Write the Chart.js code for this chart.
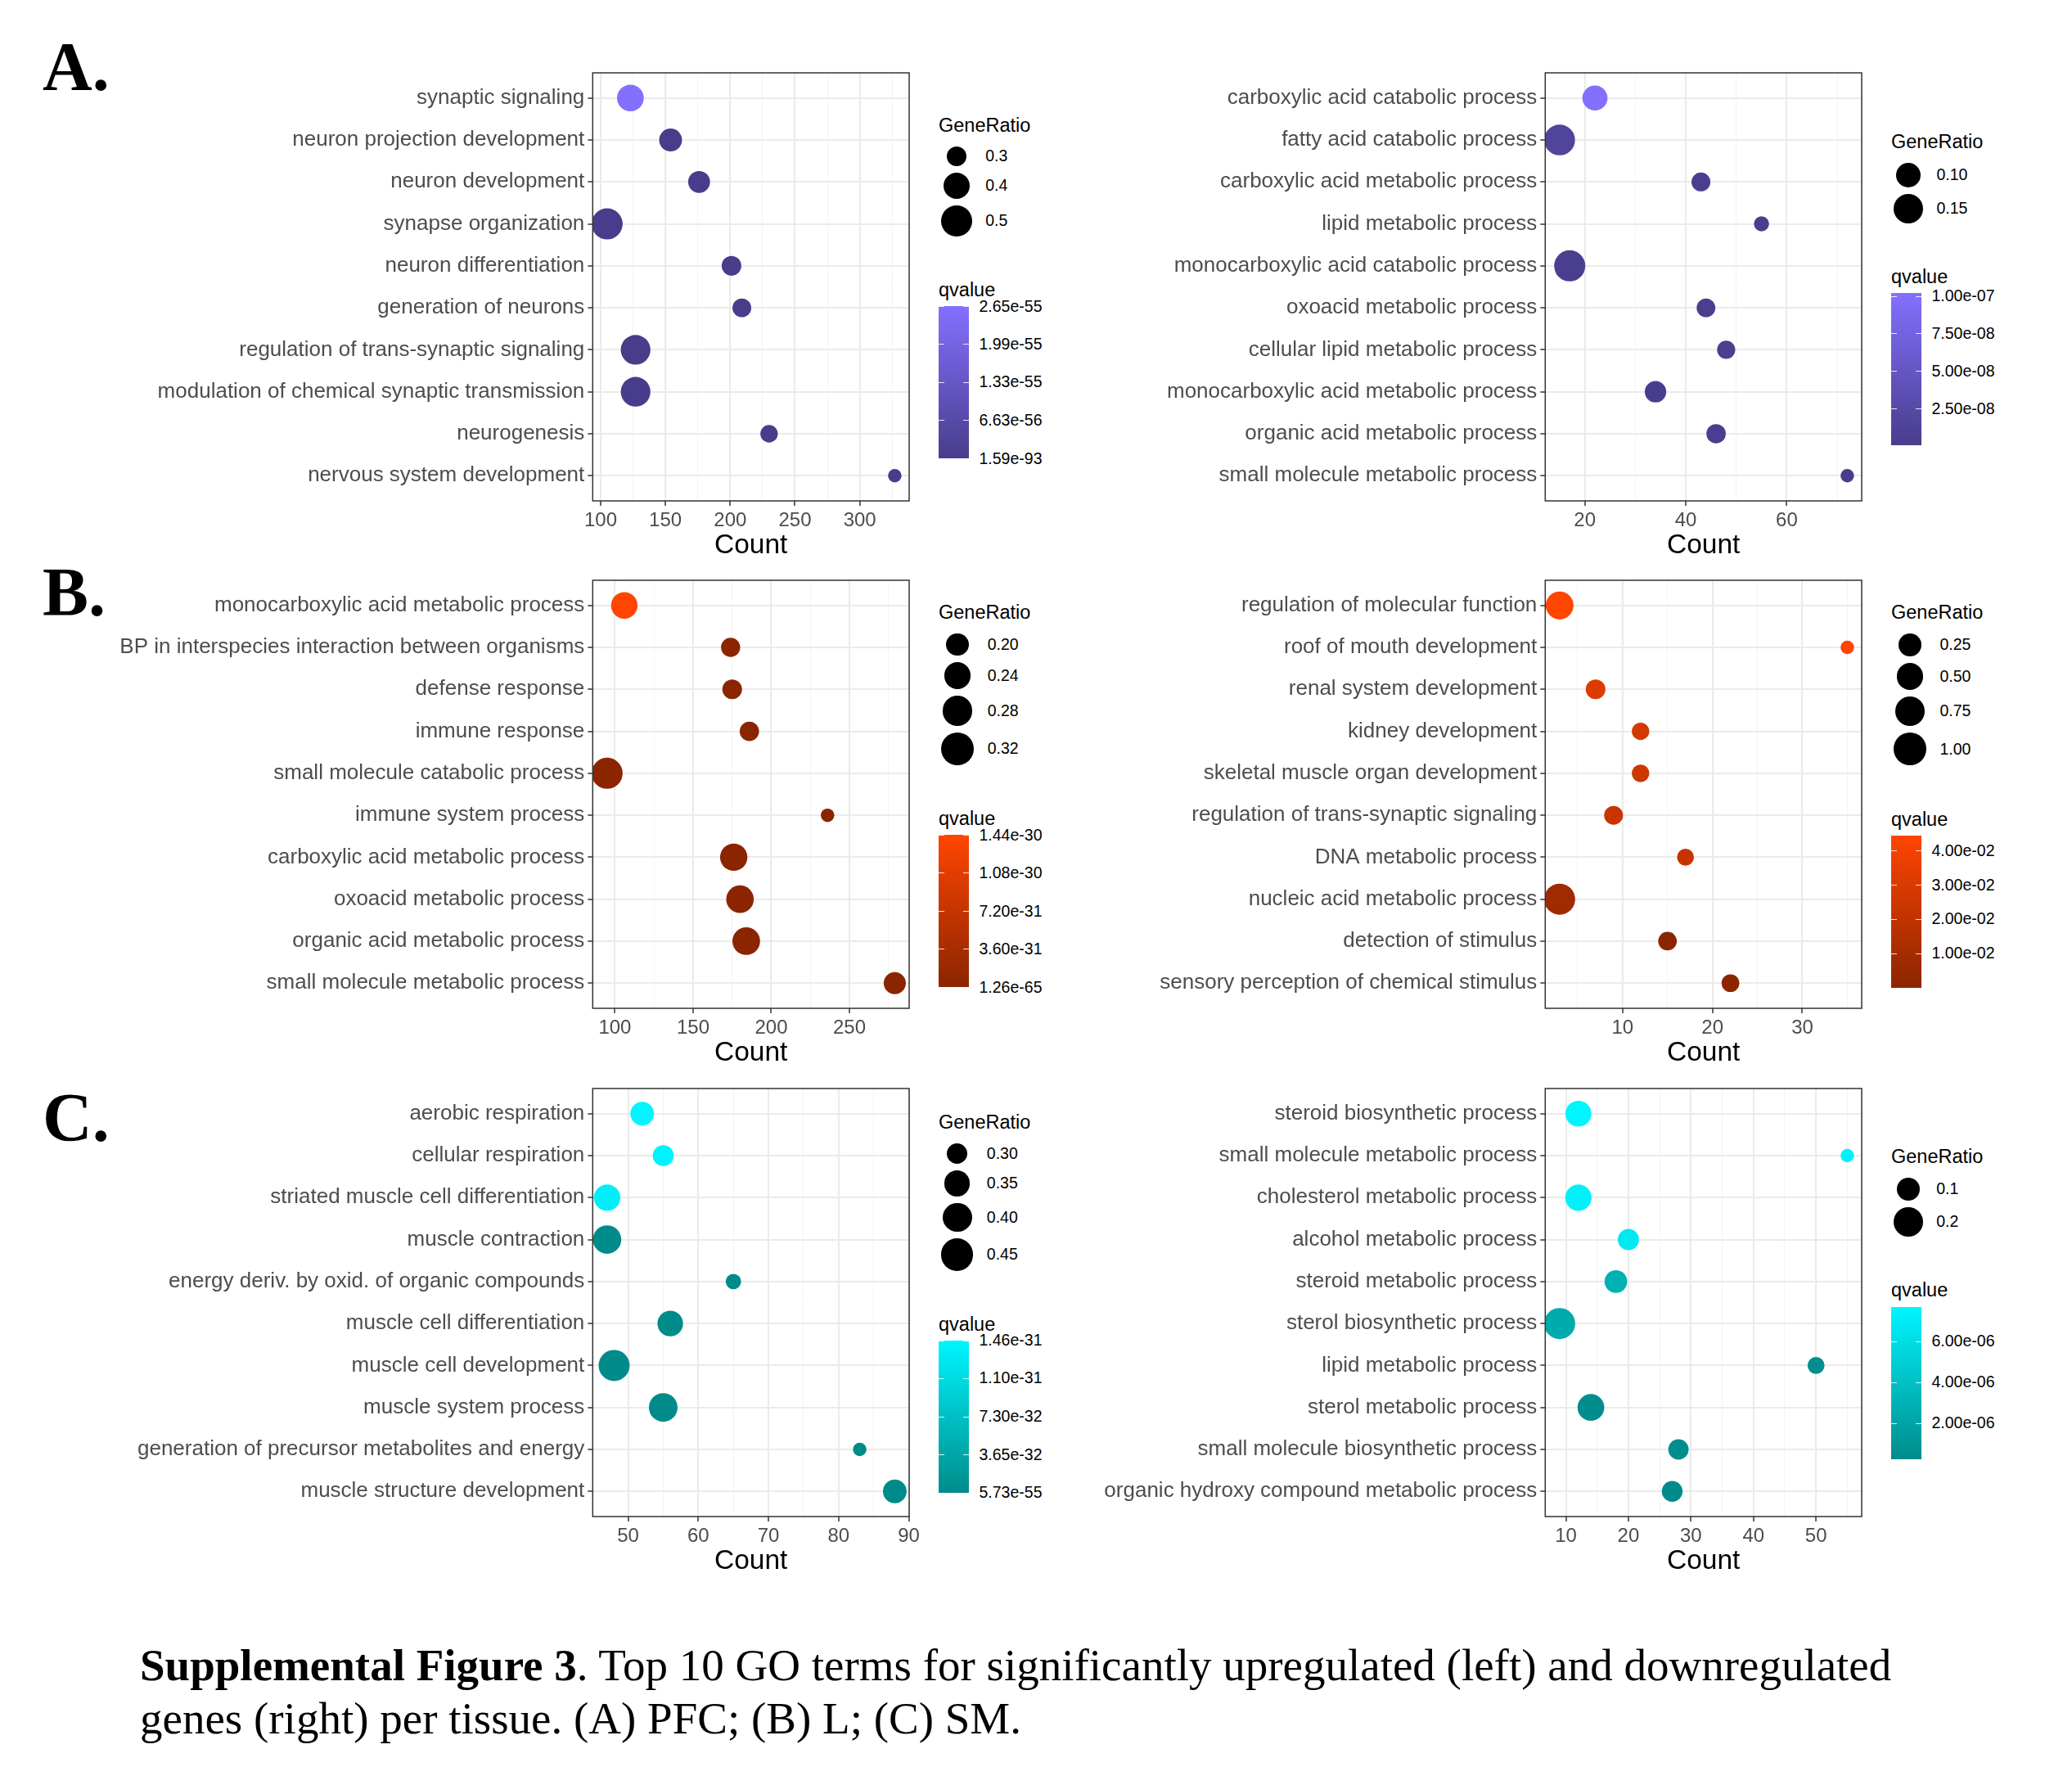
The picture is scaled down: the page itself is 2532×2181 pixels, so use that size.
<!DOCTYPE html>
<html lang="en">
  <head>
    <meta charset="UTF-8" />
    <title>Supplemental Figure 3</title>
    <script src="https://cdn.jsdelivr.net/npm/chart.js"></script>
    <style>
      body {
        margin: 0;
        width: 2532px;
        height: 2181px;
        position: relative;
        overflow: hidden;
        background: #fff;
        font-family: "Liberation Sans", Arial, sans-serif;
      }
      .panel {
        position: absolute;
      }
      .panel canvas {
        display: block;
      }
      .letter {
        position: absolute;
        left: 52px;
        font-family: "Liberation Serif", serif;
        font-weight: bold;
        font-size: 84px;
        line-height: 84px;
      }
      .caption {
        position: absolute;
        left: 171px;
        top: 2003px;
        font-family: "Liberation Serif", serif;
        font-size: 55px;
        line-height: 64.6px;
        white-space: nowrap;
      }
      .lt {
        position: absolute;
        white-space: nowrap;
        color: #000;
      }
      .dot {
        position: absolute;
        border-radius: 50%;
        background: #000;
      }
      .bar {
        position: absolute;
        width: 37px;
      }
      .tick {
        position: absolute;
        width: 7px;
        height: 1px;
        background: rgba(255, 255, 255, 0.85);
      }
    </style>
  </head>
  <body>
    <div class="letter" style="top: 40px">A.</div>
    <div class="letter" style="top: 682px">B.</div>
    <div class="letter" style="top: 1324px">C.</div>

    <div class="caption">
      <b>Supplemental Figure 3</b>. Top 10 GO terms for significantly upregulated (left) and downregulated<br />genes (right) per tissue. (A) PFC; (B) L; (C) SM.
    </div>

    <script>
      Chart.defaults.font.family = '"Liberation Sans", Arial, sans-serif';

      // A. PFC, upregulated
      const pfcUpTerms = [
        "synaptic signaling",
        "neuron projection development",
        "neuron development",
        "synapse organization",
        "neuron differentiation",
        "generation of neurons",
        "regulation of trans-synaptic signaling",
        "modulation of chemical synaptic transmission",
        "neurogenesis",
        "nervous system development",
      ];
      const pfcUpCount = [123, 154, 176, 105, 201, 209, 127, 127, 230, 327];
      const pfcUpRatio = [0.405, 0.339, 0.325, 0.507, 0.301, 0.293, 0.471, 0.471, 0.284, 0.272];
      const pfcUpQvalue = [2.65e-55, 3.1e-62, 8.4e-66, 4.0e-58, 2.2e-70, 5.6e-72, 1.1e-60, 7.3e-61, 1.8e-79, 1.59e-93];
      const pfcUpCountTicks = [100, 150, 200, 250, 300];
      const pfcUpRatioBreaks = ["0.3", "0.4", "0.5"];
      const pfcUpQBreaks = ["2.65e-55", "1.99e-55", "1.33e-55", "6.63e-56", "1.59e-93"];

      // A. PFC, downregulated
      const pfcDownTerms = [
        "carboxylic acid catabolic process",
        "fatty acid catabolic process",
        "carboxylic acid metabolic process",
        "lipid metabolic process",
        "monocarboxylic acid catabolic process",
        "oxoacid metabolic process",
        "cellular lipid metabolic process",
        "monocarboxylic acid metabolic process",
        "organic acid metabolic process",
        "small molecule metabolic process",
      ];
      const pfcDownCount = [22, 15, 43, 55, 17, 44, 48, 34, 46, 72];
      const pfcDownRatio = [0.105, 0.167, 0.065, 0.055, 0.171, 0.064, 0.062, 0.078, 0.067, 0.054];
      const pfcDownQvalue = [1.02e-7, 1.4e-8, 4.1e-9, 3.5e-9, 3.0e-9, 4.1e-9, 5.2e-9, 2.6e-9, 4.1e-9, 4.0e-10];
      const pfcDownCountTicks = [20, 40, 60];
      const pfcDownRatioBreaks = ["0.10", "0.15"];
      const pfcDownQBreaks = ["1.00e-07", "7.50e-08", "5.00e-08", "2.50e-08"];

      // B. L, upregulated
      const liverUpTerms = [
        "monocarboxylic acid metabolic process",
        "BP in interspecies interaction between organisms",
        "defense response",
        "immune response",
        "small molecule catabolic process",
        "immune system process",
        "carboxylic acid metabolic process",
        "oxoacid metabolic process",
        "organic acid metabolic process",
        "small molecule metabolic process",
      ];
      const liverUpCount = [106, 174, 175, 186, 95, 236, 176, 180, 184, 279];
      const liverUpRatio = [0.237, 0.182, 0.184, 0.183, 0.294, 0.169, 0.246, 0.249, 0.25, 0.199];
      const liverUpQvalue = [1.44e-30, 2.1e-48, 5.5e-47, 3.3e-52, 6.0e-41, 1.26e-65, 4.2e-44, 1.9e-45, 8.8e-46, 2.7e-57];
      const liverUpCountTicks = [100, 150, 200, 250];
      const liverUpRatioBreaks = ["0.20", "0.24", "0.28", "0.32"];
      const liverUpQBreaks = ["1.44e-30", "1.08e-30", "7.20e-31", "3.60e-31", "1.26e-65"];

      // B. L, downregulated
      const liverDownTerms = [
        "regulation of molecular function",
        "roof of mouth development",
        "renal system development",
        "kidney development",
        "skeletal muscle organ development",
        "regulation of trans-synaptic signaling",
        "DNA metabolic process",
        "nucleic acid metabolic process",
        "detection of stimulus",
        "sensory perception of chemical stimulus",
      ];
      const liverDownCount = [3, 35, 7, 12, 12, 9, 17, 3, 15, 22];
      const liverDownRatio = [0.567, 0.02, 0.12, 0.061, 0.061, 0.095, 0.051, 0.845, 0.088, 0.068];
      const liverDownQvalue = [0.0444, 0.0431, 0.031, 0.0272, 0.0251, 0.0233, 0.0225, 0.008, 0.00002, 0.0006];
      const liverDownCountTicks = [10, 20, 30];
      const liverDownRatioBreaks = ["0.25", "0.50", "0.75", "1.00"];
      const liverDownQBreaks = ["4.00e-02", "3.00e-02", "2.00e-02", "1.00e-02"];

      // C. SM, upregulated
      const smUpTerms = [
        "aerobic respiration",
        "cellular respiration",
        "striated muscle cell differentiation",
        "muscle contraction",
        "energy deriv. by oxid. of organic compounds",
        "muscle cell differentiation",
        "muscle cell development",
        "muscle system process",
        "generation of precursor metabolites and energy",
        "muscle structure development",
      ];
      const smUpCount = [52, 55, 47, 47, 65, 56, 48, 55, 83, 88];
      const smUpRatio = [0.327, 0.303, 0.359, 0.386, 0.277, 0.348, 0.43, 0.39, 0.275, 0.327];
      const smUpQvalue = [1.46e-31, 1.43e-31, 1.36e-31, 5.1e-36, 2.2e-40, 8.7e-38, 3.4e-37, 1.2e-45, 5.73e-55, 6.6e-47];
      const smUpCountTicks = [50, 60, 70, 80, 90];
      const smUpRatioBreaks = ["0.30", "0.35", "0.40", "0.45"];
      const smUpQBreaks = ["1.46e-31", "1.10e-31", "7.30e-32", "3.65e-32", "5.73e-55"];

      // C. SM, downregulated
      const smDownTerms = [
        "steroid biosynthetic process",
        "small molecule metabolic process",
        "cholesterol metabolic process",
        "alcohol metabolic process",
        "steroid metabolic process",
        "sterol biosynthetic process",
        "lipid metabolic process",
        "sterol metabolic process",
        "small molecule biosynthetic process",
        "organic hydroxy compound metabolic process",
      ];
      const smDownCount = [12, 55, 12, 20, 18, 9, 50, 14, 28, 27];
      const smDownRatio = [0.14, 0.039, 0.148, 0.078, 0.094, 0.241, 0.047, 0.153, 0.07, 0.073];
      const smDownQvalue = [7.7e-6, 7.5e-6, 7.4e-6, 6.8e-6, 2.9e-6, 2.5e-6, 4.8e-7, 4.0e-7, 4.1e-7, 2.6e-7];
      const smDownCountTicks = [10, 20, 30, 40, 50];
      const smDownRatioBreaks = ["0.1", "0.2"];
      const smDownQBreaks = ["6.00e-06", "4.00e-06", "2.00e-06"];

      const DOT_MIN = 16.5;
      const DOT_MAX = 38;
      const PALETTES = {
        A: ["#483D8B", "#8470FF"],
        B: ["#8B2500", "#FF4500"],
        C: ["#008B8B", "#00F5FF"],
      };
      const TITLE_SIZE = 23.5;
      const LABEL_SIZE = 19.5;

      const panels = [
        { terms: pfcUpTerms, count: pfcUpCount, ratio: pfcUpRatio, q: pfcUpQvalue, ticks: pfcUpCountTicks, rBreaks: pfcUpRatioBreaks, qBreaks: pfcUpQBreaks, pal: "A", col: 0, top: 62, legendTop: 145 },
        { terms: pfcDownTerms, count: pfcDownCount, ratio: pfcDownRatio, q: pfcDownQvalue, ticks: pfcDownCountTicks, rBreaks: pfcDownRatioBreaks, qBreaks: pfcDownQBreaks, pal: "A", col: 1, top: 62, legendTop: 165 },
        { terms: liverUpTerms, count: liverUpCount, ratio: liverUpRatio, q: liverUpQvalue, ticks: liverUpCountTicks, rBreaks: liverUpRatioBreaks, qBreaks: liverUpQBreaks, pal: "B", col: 0, top: 682, legendTop: 740 },
        { terms: liverDownTerms, count: liverDownCount, ratio: liverDownRatio, q: liverDownQvalue, ticks: liverDownCountTicks, rBreaks: liverDownRatioBreaks, qBreaks: liverDownQBreaks, pal: "B", col: 1, top: 682, legendTop: 740 },
        { terms: smUpTerms, count: smUpCount, ratio: smUpRatio, q: smUpQvalue, ticks: smUpCountTicks, rBreaks: smUpRatioBreaks, qBreaks: smUpQBreaks, pal: "C", col: 0, top: 1303, legendTop: 1363 },
        { terms: smDownTerms, count: smDownCount, ratio: smDownRatio, q: smDownQvalue, ticks: smDownCountTicks, rBreaks: smDownRatioBreaks, qBreaks: smDownQBreaks, pal: "C", col: 1, top: 1303, legendTop: 1405 },
      ];

      function dotSize(v, lo, hi) {
        return DOT_MIN + (DOT_MAX - DOT_MIN) * Math.sqrt(Math.max(0, (v - lo) / (hi - lo)));
      }

      function hexRgb(h) {
        return [1, 3, 5].map((i) => parseInt(h.slice(i, i + 2), 16));
      }

      function mix(c1, c2, t) {
        const a = hexRgb(c1), b = hexRgb(c2);
        t = Math.min(1, Math.max(0, t));
        return "rgb(" + a.map((v, i) => Math.round(v + (b[i] - v) * t)).join(",") + ")";
      }

      // panel border, like theme_bw
      const frame = {
        id: "frame",
        afterDraw(chart) {
          const { left, top, right, bottom } = chart.chartArea;
          const g = chart.ctx;
          g.save();
          g.strokeStyle = "#333333";
          g.lineWidth = 1.5;
          g.strokeRect(left, top, right - left, bottom - top);
          g.restore();
        },
      };

      function addDiv(cls, css, text) {
        const d = document.createElement("div");
        d.className = cls;
        Object.assign(d.style, css);
        if (text) d.textContent = text;
        document.body.appendChild(d);
        return d;
      }

      function textAt(str, x, cy, size) {
        addDiv("lt", { left: x + "px", top: cy - size / 2 + "px", fontSize: size + "px", lineHeight: size + "px" }, str);
      }

      function titleAt(str, x, capTop) {
        addDiv("lt", { left: x + "px", top: capTop - 0.13 * TITLE_SIZE + "px", fontSize: TITLE_SIZE + "px", lineHeight: TITLE_SIZE + "px" }, str);
      }

      function drawLegend(p, rLo, rHi, qLo, qHi) {
        const x0 = p.col ? 2311 : 1147;
        const [low, high] = PALETTES[p.pal];
        const sizes = p.rBreaks.map((s) => dotSize(parseFloat(s), rLo, rHi));
        const maxD = Math.max(...sizes);

        titleAt("GeneRatio", x0, p.legendTop);
        let y = p.legendTop + 30;
        sizes.forEach((d, i) => {
          const cy = y + (d + 8) / 2;
          const cx = x0 + maxD / 2 + 3;
          addDiv("dot", { left: cx - d / 2 + "px", top: cy - d / 2 + "px", width: d + "px", height: d + "px" });
          textAt(p.rBreaks[i], x0 + maxD + 19.5, cy, LABEL_SIZE);
          y += d + 8;
        });

        const qTop = y + 53.5;
        titleAt("qvalue", x0, qTop);
        const barTop = qTop + 28;
        const barH = 186;
        addDiv("bar", {
          left: x0 + "px",
          top: barTop + "px",
          height: barH + "px",
          background: "linear-gradient(to bottom, " + high + ", " + low + ")",
        });
        p.qBreaks.forEach((s) => {
          const v = parseFloat(s);
          const ty = barTop + (1 - (v - qLo) / (qHi - qLo)) * barH;
          addDiv("tick", { left: x0 + "px", top: ty - 0.5 + "px" });
          addDiv("tick", { left: x0 + 30 + "px", top: ty - 0.5 + "px" });
          textAt(s, x0 + 49.5, ty, LABEL_SIZE);
        });
      }

      function drawPanel(p) {
        const x0 = p.col ? 1280 : 100;
        const plotLeft = p.col ? 608.3 : 624.3;
        const padRight = p.col ? 36 : 30;
        const width = p.col ? 1031 : 1041;

        const wrap = addDiv("panel", { left: x0 + "px", top: p.top + "px" });
        const cv = document.createElement("canvas");
        cv.width = width;
        cv.height = 635;
        cv.style.width = width + "px";
        cv.style.height = "635px";
        wrap.appendChild(cv);

        const lo = Math.min(...p.count), hi = Math.max(...p.count);
        const pad = (hi - lo) * 0.05;
        const rLo = Math.min(...p.ratio), rHi = Math.max(...p.ratio);
        const qLo = Math.min(...p.q), qHi = Math.max(...p.q);
        const [low, high] = PALETTES[p.pal];
        const step = p.ticks[1] - p.ticks[0];
        const minor = [p.ticks[0] - step / 2].concat(p.ticks.map((t) => t + step / 2));
        const isMajor = (v) => p.ticks.includes(v);

        new Chart(cv, {
          type: "bubble",
          data: {
            datasets: [
              {
                data: p.count.map((c, i) => ({ x: c, y: i, r: dotSize(p.ratio[i], rLo, rHi) / 2 })),
                backgroundColor: p.q.map((v) => mix(low, high, (v - qLo) / (qHi - qLo))),
                borderWidth: 0,
                hoverBorderWidth: 0,
                clip: 0,
              },
            ],
          },
          options: {
            responsive: false,
            animation: false,
            events: [],
            layout: { padding: { top: 27, right: padRight, bottom: 6, left: 0 } },
            plugins: { legend: { display: false }, tooltip: { enabled: false } },
            scales: {
              x: {
                type: "linear",
                min: lo - pad,
                max: hi + pad,
                afterBuildTicks: (axis) => {
                  const all = p.ticks.concat(minor).filter((v) => v >= lo - pad && v <= hi + pad);
                  all.sort((a, b) => a - b);
                  axis.ticks = all.map((v) => ({ value: v }));
                },
                afterFit: (axis) => {
                  axis.height = 79;
                },
                border: { display: false },
                grid: {
                  color: (c) => (c.tick && isMajor(c.tick.value) ? "#EBEBEB" : "#F3F3F3"),
                  lineWidth: (c) => (c.tick && isMajor(c.tick.value) ? 2 : 1),
                  tickColor: (c) => (c.tick && isMajor(c.tick.value) ? "#333333" : "rgba(0,0,0,0)"),
                  tickWidth: 1.5,
                  tickLength: 6,
                },
                ticks: {
                  autoSkip: false,
                  maxRotation: 0,
                  padding: 4,
                  color: "#4D4D4D",
                  font: { size: 24 },
                  callback: (v) => (isMajor(v) ? String(v) : ""),
                },
                title: {
                  display: true,
                  text: "Count",
                  color: "#000",
                  font: { size: 33.5 },
                  padding: { top: 0, bottom: 4 },
                },
              },
              y: {
                type: "linear",
                min: -0.6,
                max: 9.6,
                reverse: true,
                afterBuildTicks: (axis) => {
                  axis.ticks = p.terms.map((_, i) => ({ value: i }));
                },
                afterFit: (axis) => {
                  axis.width = plotLeft;
                },
                border: { display: false },
                grid: {
                  color: "#EBEBEB",
                  lineWidth: 2,
                  tickColor: "#333333",
                  tickWidth: 1.5,
                  tickLength: 6,
                },
                ticks: {
                  autoSkip: false,
                  padding: 4,
                  color: "#4D4D4D",
                  font: { size: 26 },
                  callback: (v) => p.terms[v],
                },
              },
            },
          },
          plugins: [frame],
        });

        drawLegend(p, rLo, rHi, qLo, qHi);
      }

      panels.forEach(drawPanel);
    </script>
  </body>
</html>
